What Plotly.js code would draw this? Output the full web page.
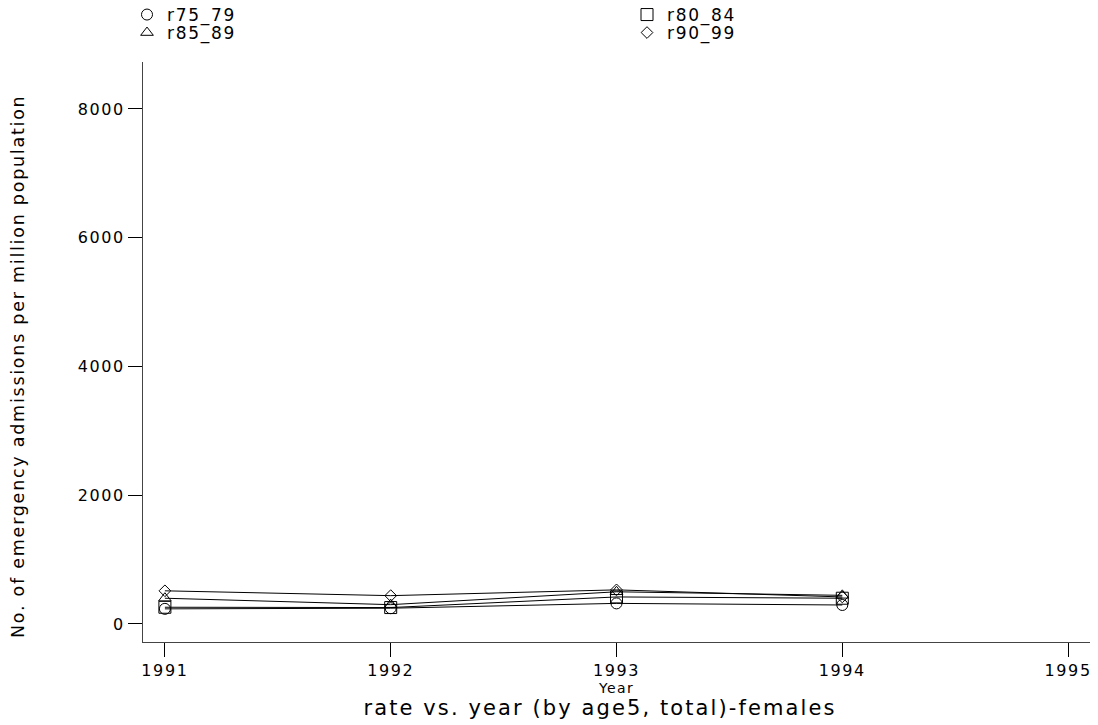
<!DOCTYPE html>
<html>
<head>
<meta charset="utf-8">
<script src="https://cdn.plot.ly/plotly-3.0.1.min.js"></script>
<style>
  html, body { margin: 0; padding: 0; background: #fff; }
  #chart { width: 1098px; height: 725px; }
  svg text { letter-spacing: 0.1em; }
</style>
</head>
<body>
<div id="chart"></div>
<script>
// Data
const years = [1991, 1992, 1993, 1994];
const r75_79 = [235, 245, 320, 295];
const r80_84 = [260, 255, 420, 400];
const r85_89 = [400, 300, 500, 445];
const r90_99 = [515, 440, 530, 420];
const seriesNames = ["r75_79", "r80_84", "r85_89", "r90_99"];
const xTickVals = [1991, 1992, 1993, 1994, 1995];
const yTickVals = [0, 2000, 4000, 6000, 8000];
const yTitle = "No. of emergency admissions per million population";

const seriesData = [r75_79, r80_84, r85_89, r90_99];
const symbols = ["circle-open", "square-open", "triangle-up-open", "diamond-open"];
const sizes = [11, 12, 11, 9];
const legendIds = ["legend", "legend2", "legend3", "legend4"];

const FAM = "DejaVu Sans, Liberation Sans, Arial, sans-serif";
const f = (size) => ({ family: FAM, size: size, color: "#000" });

const lineTraces = seriesData.map((vals, i) => ({
  type: "scatter",
  mode: "lines",
  name: seriesNames[i],
  x: years,
  y: vals,
  showlegend: false,
  hoverinfo: "skip",
  line: { color: "#000", width: 1 }
}));
const markerTraces = seriesData.map((vals, i) => ({
  type: "scatter",
  mode: "markers",
  name: seriesNames[i],
  x: years,
  y: vals,
  legend: legendIds[i],
  marker: { symbol: symbols[i], size: sizes[i], color: "#000", line: { width: 1, color: "#000" } }
}));

function legendAt(xpx, ypx) {
  return {
    orientation: "v",
    x: xpx / 1098, xref: "container", xanchor: "left",
    y: 1 - ypx / 725, yref: "container", yanchor: "middle",
    font: f(17),
    bgcolor: "rgba(0,0,0,0)",
    borderwidth: 0
  };
}

const layout = {
  width: 1098,
  height: 725,
  paper_bgcolor: "#fff",
  plot_bgcolor: "#fff",
  font: f(16),
  margin: { l: 143, r: 8, t: 62, b: 83, pad: 0, autoexpand: false },
  title: {
    text: "rate vs. year (by age5, total)-females",
    font: f(21),
    x: 600 / 1098, xanchor: "center",
    y: 1 - 708 / 725, yref: "container", yanchor: "middle"
  },
  showlegend: true,
  legend: legendAt(127, 15),
  legend2: legendAt(627, 15),
  legend3: legendAt(127, 33),
  legend4: legendAt(627, 33),
  xaxis: {
    range: [1990.903, 1995.097],
    tickmode: "array",
    tickvals: xTickVals,
    ticktext: xTickVals.map(String),
    ticks: "outside", ticklen: 14, tickwidth: 1, tickcolor: "#000",
    showline: true, linecolor: "#444", linewidth: 1,
    showgrid: false, zeroline: false,
    tickfont: f(16),
    title: { text: "Year", font: f(14), standoff: 0 },
    automargin: false
  },
  yaxis: {
    range: [-280, 8730],
    tickmode: "array",
    tickvals: yTickVals,
    ticktext: yTickVals.map(String),
    ticks: "outside", ticklen: 14, tickwidth: 1, tickcolor: "#000",
    showline: true, linecolor: "#444", linewidth: 1,
    showgrid: false, zeroline: false,
    tickfont: f(16),
    automargin: false
  },
  annotations: [{
    text: yTitle,
    xref: "paper", yref: "paper",
    x: (18 - 143) / 947, xanchor: "center",
    y: (642 - 367) / 580, yanchor: "middle",
    textangle: -90,
    showarrow: false,
    font: f(17.5)
  }]
};

Plotly.newPlot("chart", lineTraces.concat(markerTraces), layout, { displayModeBar: false, staticPlot: true });
</script>
</body>
</html>
